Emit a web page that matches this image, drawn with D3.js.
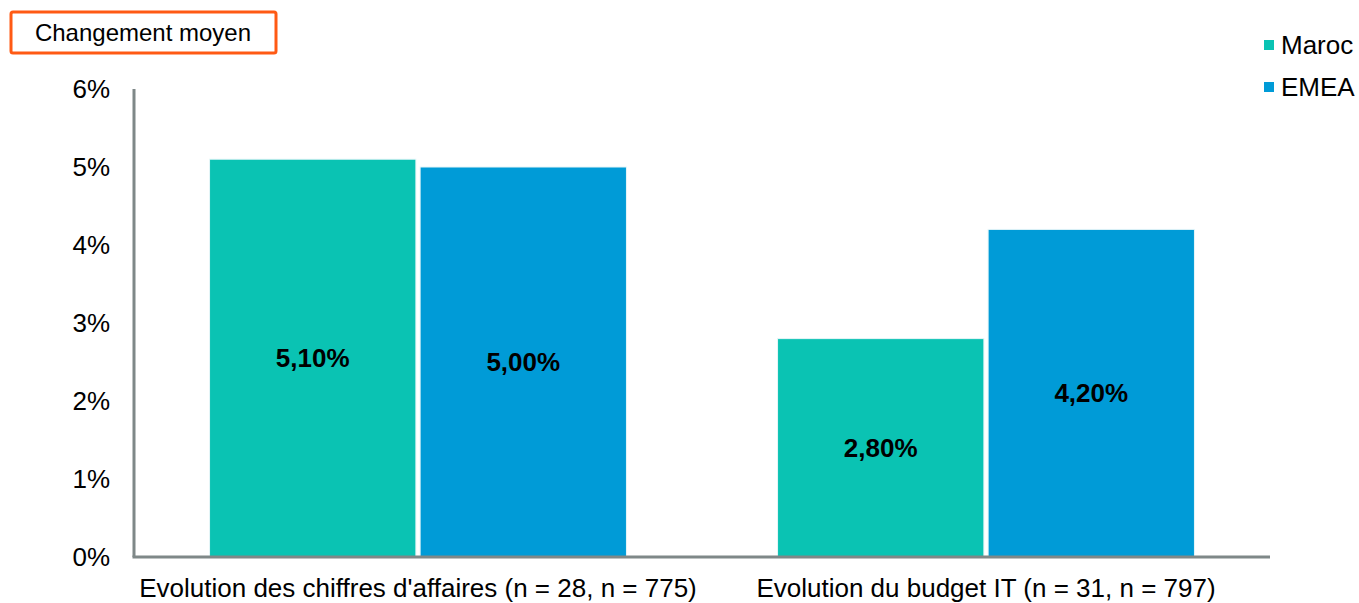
<!DOCTYPE html>
<html lang="fr">
<head>
    <meta charset="utf-8">
    <title>Changement moyen</title>
    <script type="text/javascript" src="https://cdn.jsdelivr.net/npm/d3@7"></script>
    <style type="text/css">
        body { margin: 0; background: #fff; }
        text { font-family: "Liberation Sans", Arial, sans-serif; }
    </style>
</head>
<body>
    <script type="text/javascript">
        // Data
        var categories = ["Evolution des chiffres d'affaires (n = 28, n = 775)", "Evolution du budget IT (n = 31, n = 797)"];
        var seriesNames = ["Maroc", "EMEA"];
        var maroc = [5.1, 2.8];
        var emea = [5.0, 4.2];
        var yTicks = [0, 1, 2, 3, 4, 5, 6];
        var colors = ["#0AC3B3", "#009BD7"];

        var w = 1359;
        var h = 603;
        var margin = { left: 134, right: 89, top: 89, bottom: 46 };
        var fs = "26px";

        var svg = d3.select("body")
            .append("svg")
            .attr("width", w)
            .attr("height", h);

        var x0 = d3.scaleBand()
            .domain(categories)
            .range([margin.left, w - margin.right])
            .paddingInner(0.266)
            .paddingOuter(0.133);

        var x1 = d3.scaleBand()
            .domain(seriesNames)
            .range([0, x0.bandwidth()])
            .paddingInner(0.02);

        var y = d3.scaleLinear()
            .domain([0, 6])
            .range([h - margin.bottom, margin.top]);

        // Y tick labels
        svg.selectAll(".ytick")
            .data(yTicks)
            .enter()
            .append("text")
            .attr("x", 110)
            .attr("y", function(d) { return y(d); })
            .attr("dy", "0.35em")
            .attr("text-anchor", "end")
            .style("font-size", fs)
            .style("fill", "#000")
            .text(function(d) { return d + "%"; });

        // Bars
        var rows = categories.map(function(c, i) {
            return [{ cat: c, s: "Maroc", v: maroc[i] }, { cat: c, s: "EMEA", v: emea[i] }];
        });

        var groups = svg.selectAll(".grp")
            .data(rows)
            .enter()
            .append("g")
            .attr("transform", function(d) { return "translate(" + x0(d[0].cat) + ",0)"; });

        groups.selectAll("rect")
            .data(function(d) { return d; })
            .enter()
            .append("rect")
            .attr("x", function(d) { return x1(d.s); })
            .attr("y", function(d) { return y(d.v); })
            .attr("width", x1.bandwidth())
            .attr("height", function(d) { return y(0) - y(d.v); })
            .style("fill", function(d) { return colors[seriesNames.indexOf(d.s)]; })
            .style("stroke", "#e6f6f8")
            .style("stroke-width", 1);

        groups.selectAll(".lbl")
            .data(function(d) { return d; })
            .enter()
            .append("text")
            .attr("x", function(d) { return x1(d.s) + x1.bandwidth() / 2; })
            .attr("y", function(d) { return (y(d.v) + y(0)) / 2; })
            .attr("dy", "0.35em")
            .attr("text-anchor", "middle")
            .style("font-size", fs)
            .style("font-weight", "bold")
            .style("fill", "#000")
            .text(function(d) { return d.v.toFixed(2).replace(".", ",") + "%"; });

        // Axes lines
        svg.append("line")
            .attr("x1", margin.left).attr("x2", margin.left)
            .attr("y1", y(6)).attr("y2", y(0))
            .style("stroke", "#7f8888").style("stroke-width", 3);
        svg.append("line")
            .attr("x1", margin.left - 1.5).attr("x2", w - margin.right)
            .attr("y1", y(0)).attr("y2", y(0))
            .style("stroke", "#7f8888").style("stroke-width", 3);

        // Category labels
        svg.selectAll(".xlbl")
            .data(categories)
            .enter()
            .append("text")
            .attr("x", function(d) { return x0(d) + x0.bandwidth() / 2; })
            .attr("y", 588)
            .attr("dy", "0.35em")
            .attr("text-anchor", "middle")
            .style("font-size", fs)
            .style("fill", "#000")
            .text(function(d) { return d; });

        // Legend
        var legend = svg.selectAll(".leg")
            .data(seriesNames)
            .enter()
            .append("g")
            .attr("transform", function(d, i) { return "translate(1264," + (45 + i * 42) + ")"; });
        legend.append("rect")
            .attr("x", 0).attr("y", -5)
            .attr("width", 10).attr("height", 10)
            .style("fill", function(d, i) { return colors[i]; });
        legend.append("text")
            .attr("x", 17).attr("y", 0)
            .attr("dy", "0.35em")
            .style("font-size", fs)
            .style("fill", "#000")
            .text(function(d) { return d; });

        // Title box
        svg.append("rect")
            .attr("x", 11).attr("y", 12)
            .attr("width", 265).attr("height", 41)
            .attr("rx", 2)
            .style("fill", "#fff")
            .style("stroke", "#FF5A14")
            .style("stroke-width", 3);
        svg.append("text")
            .attr("x", 143).attr("y", 33)
            .attr("dy", "0.35em")
            .attr("text-anchor", "middle")
            .style("font-size", "24px")
            .style("fill", "#000")
            .text("Changement moyen");
    </script>
</body>
</html>
